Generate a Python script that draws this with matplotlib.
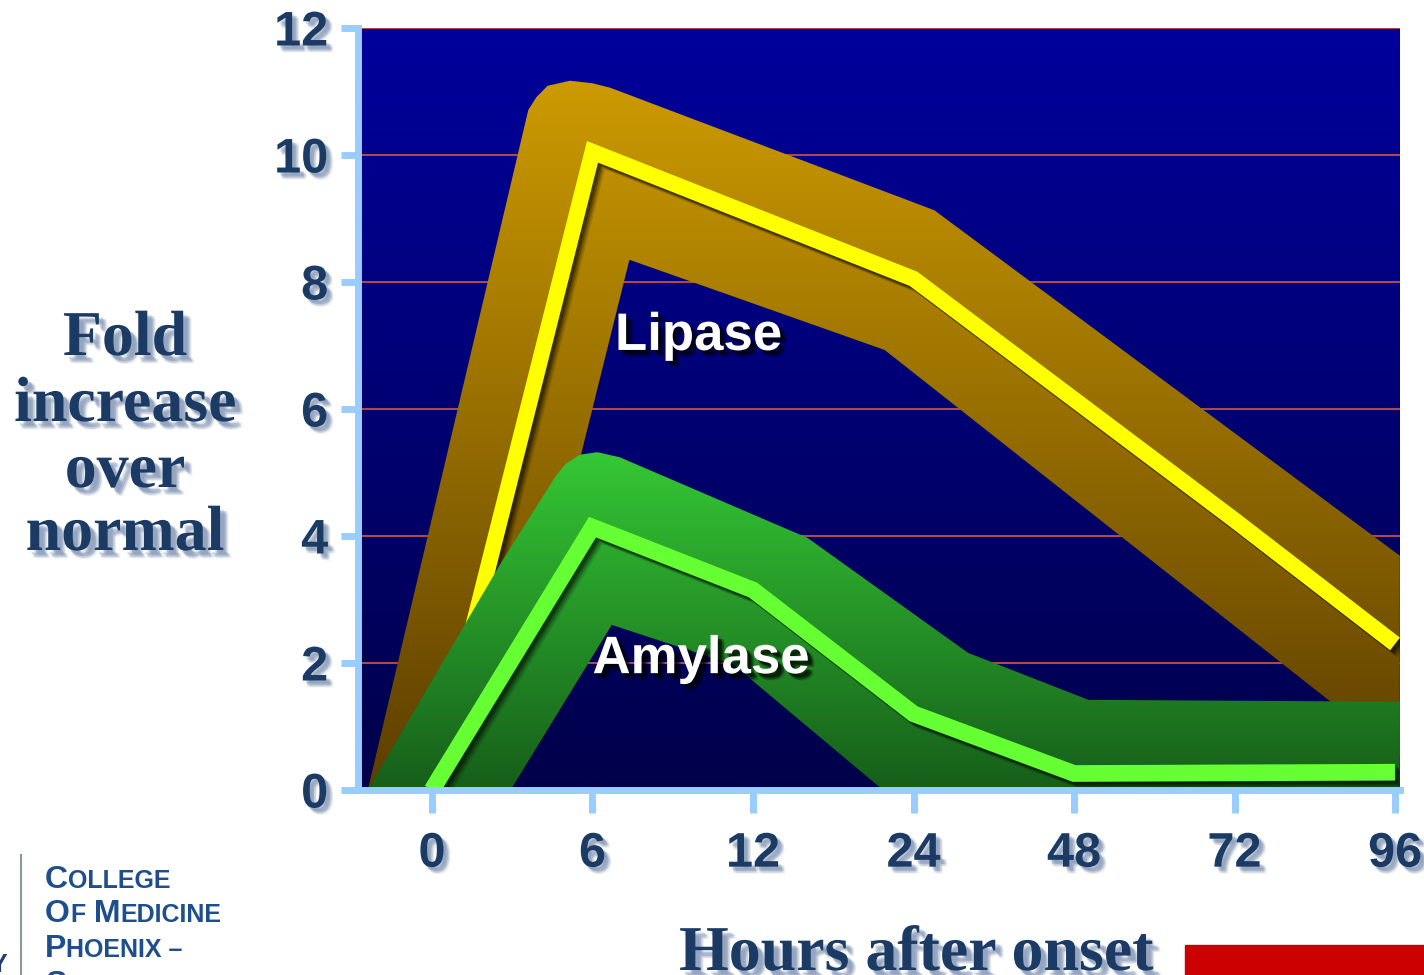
import numpy as np
import matplotlib
matplotlib.use('Agg')
import matplotlib.pyplot as plt
from matplotlib.patches import Polygon, Rectangle
from matplotlib.lines import Line2D
import matplotlib.patheffects as pe
from matplotlib.colors import to_rgb

# ---------------- data ----------------
hours = ['0', '6', '12', '24', '48', '72', '96']
lipase = [0.0, 10.05, 9.05, 8.05, 6.15, 4.25, 2.3]
amylase = [0.0, 4.14, 3.15, 1.2, 0.26, 0.27, 0.28]

# shaded ranges (x in category-index units)
lipase_upper_x = [-0.40, 0.60, 0.65, 0.72, 0.86, 1.00, 1.11, 3.13, 6.03]
lipase_upper_y = [0.0, 10.71, 10.91, 11.09, 11.17, 11.13, 11.06, 9.13, 3.69]
lipase_lower_x = [0.41, 1.23, 2.82, 6.03]
lipase_lower_y = [0.0, 8.35, 6.93, 0.53]

amylase_upper_x = [-0.40, 0.44, 0.77, 0.83, 0.92, 1.03, 1.17, 2.34, 3.34, 4.09, 6.03]
amylase_upper_y = [0.0, 3.62, 4.94, 5.13, 5.28, 5.32, 5.24, 3.97, 2.16, 1.42, 1.39]
amylase_lower_x = [0.49, 1.12, 1.88, 2.81, 6.03]
amylase_lower_y = [0.0, 2.60, 1.97, 0.0, 0.0]

yticks = [0, 2, 4, 6, 8, 10, 12]

# ---------------- figure ----------------
W, H = 1424, 975
plt.rcParams['font.family'] = ['Liberation Sans', 'DejaVu Sans']
plt.rcParams['font.weight'] = 'bold'
fig = plt.figure(figsize=(W / 100, H / 100), dpi=100, facecolor='white')
ax = fig.add_axes([358 / W, 185 / H, 1042 / W, 762 / H])

XMIN, XMAX = -0.461, 6.031
x = np.arange(len(hours))


def vgrad(c_top, c_bot, n=256):
    t = np.linspace(0, 1, n)[:, None]
    ct = np.array(to_rgb(c_top))
    cb = np.array(to_rgb(c_bot))
    return (cb + (ct - cb) * t)[:, None, :]


def soft_text_shadow(color, alpha=0.5, dx=3, dy=-3):
    fx = []
    for ox, oy, a in [(dx + 2, dy - 2, 0.10), (dx + 1, dy - 1, 0.15), (dx, dy, 0.25),
                      (dx - 1, dy + 1, 0.20), (dx + 1.5, dy, 0.12), (dx, dy - 1.5, 0.12)]:
        fx.append(pe.SimplePatchShadow(offset=(ox, oy), shadow_rgbFace=color,
                                       alpha=a * alpha / 0.5))
    fx.append(pe.Normal())
    return fx


def soft_line_shadow():
    fx = []
    for o, a in [(5, 0.12), (4, 0.18), (3, 0.25), (2, 0.3)]:
        fx.append(pe.SimpleLineShadow(offset=(o, -o), shadow_color='black', alpha=a))
    fx.append(pe.Normal())
    return fx


# background gradient
ax.imshow(vgrad('#00009C', '#00004A'), extent=[XMIN, XMAX, 0, 12], origin='lower',
          aspect='auto', interpolation='bilinear', zorder=0)


def gradient_band(ux, uy, lx, ly, c_top, c_bot, ytop, z):
    xs = list(ux) + list(lx)[::-1]
    ys = list(uy) + list(ly)[::-1]
    poly = Polygon(np.column_stack([xs, ys]), closed=True, facecolor='none',
                   edgecolor='none', zorder=z)
    ax.add_patch(poly)
    im = ax.imshow(vgrad(c_top, c_bot), extent=[XMIN, XMAX, 0, ytop], origin='lower',
                   aspect='auto', interpolation='bilinear', zorder=z)
    im.set_clip_path(poly)


gradient_band(lipase_upper_x, lipase_upper_y, lipase_lower_x, lipase_lower_y,
              '#CD9B00', '#5C3E00', 11.25, 1.0)
ax.plot(x, lipase, color='#FFFF00', lw=11.5, solid_joinstyle='miter',
        solid_capstyle='butt', zorder=1.5, path_effects=soft_line_shadow())

gradient_band(amylase_upper_x, amylase_upper_y, amylase_lower_x, amylase_lower_y,
              '#35C835', '#165E1A', 5.35, 2.0)
ax.plot(x, amylase, color='#66FF33', lw=12, solid_joinstyle='miter',
        solid_capstyle='butt', zorder=2.2, path_effects=soft_line_shadow())

ax.set_xlim(XMIN, XMAX)
ax.set_ylim(0, 12)
ax.set_axisbelow(True)
ax.yaxis.grid(True, color='#C0504D', lw=1.3)
ax.xaxis.grid(False)

ax.set_xticks(x)
ax.set_xticklabels(hours)
ax.set_yticks(yticks)
ax.set_yticklabels([str(v) for v in yticks])

for s in ['top', 'right']:
    ax.spines[s].set_visible(False)
for s in ['left', 'bottom']:
    ax.spines[s].set_color('#99CCFF')
    ax.spines[s].set_linewidth(5)
    ax.spines[s].set_zorder(5)

ax.tick_params(axis='y', length=12, width=5, color='#99CCFF', pad=9.5,
               labelsize=35, labelcolor='#1B3A64')
ax.tick_params(axis='x', length=16.5, width=5, color='#99CCFF', pad=13.5,
               labelsize=35, labelcolor='#1B3A64')

for lab in ax.get_xticklabels() + ax.get_yticklabels():
    lab.set_fontweight('bold')
    lab.set_path_effects(soft_text_shadow('#6F84A8', 0.6))

# series labels
ax.text(1.14, 6.93, 'Lipase', color='white', fontsize=38, fontweight='bold',
        ha='left', va='baseline', zorder=6, path_effects=soft_text_shadow('black', 0.7))
ax.text(1.0, 1.84, 'Amylase', color='white', fontsize=38, fontweight='bold',
        ha='left', va='baseline', zorder=6, path_effects=soft_text_shadow('black', 0.7))

# axis titles
for word, base in [('Fold', 355), ('increase', 421), ('over', 487), ('normal', 550)]:
    fig.text(125 / W, (H - base) / H, word, ha='center', va='baseline',
             family=['Liberation Serif', 'DejaVu Serif'], fontweight='bold',
             fontsize=46, color='#1B3A64',
             path_effects=soft_text_shadow('#6F84A8', 0.6, 4, -4))

fig.text(916 / W, (H - 970) / H, 'Hours after onset', ha='center', va='baseline',
         family=['Liberation Serif', 'DejaVu Serif'], fontweight='bold',
         fontsize=46, color='#1B3A64',
         path_effects=soft_text_shadow('#6F84A8', 0.6, 4, -4))

# red bar bottom right
fig.add_artist(Rectangle((1185 / W, 0), (W - 1185) / W, 30 / H, color='#CC0000',
                         transform=fig.transFigure))

# logo text (small caps)
logo_color = '#1F4E8C'


def smallcaps(x_px, base_px, parts):
    prev = None
    for s, size in parts:
        if prev is None:
            t = ax.annotate(s, xy=(x_px, H - base_px), xycoords='figure pixels',
                            ha='left', va='baseline', fontsize=size, fontweight='bold',
                            color=logo_color, annotation_clip=False)
        else:
            t = ax.annotate(s, xy=(1, H - base_px), xycoords=(prev, 'figure pixels'),
                            ha='left', va='baseline', fontsize=size, fontweight='bold',
                            color=logo_color, annotation_clip=False)
        prev = t


smallcaps(45, 888, [('C', 23), ('OLLEGE', 18)])
smallcaps(45, 922, [('O', 23), ('F', 18), (' M', 23), ('EDICINE', 18)])
smallcaps(45, 957, [('P', 23), ('HOENIX –', 18)])
smallcaps(45, 993, [('S', 23), ('URGERY', 18)])

fig.add_artist(Line2D([21 / W, 21 / W], [0, (H - 855) / H], color='#8A96A0', lw=1.5,
                      transform=fig.transFigure))
fig.text(7 / W, (H - 972) / H, 'Y', ha='right', va='baseline', fontsize=18,
         fontweight='bold', color='#1F3F6F')

fig.savefig('out.png', dpi=100, facecolor='white')
